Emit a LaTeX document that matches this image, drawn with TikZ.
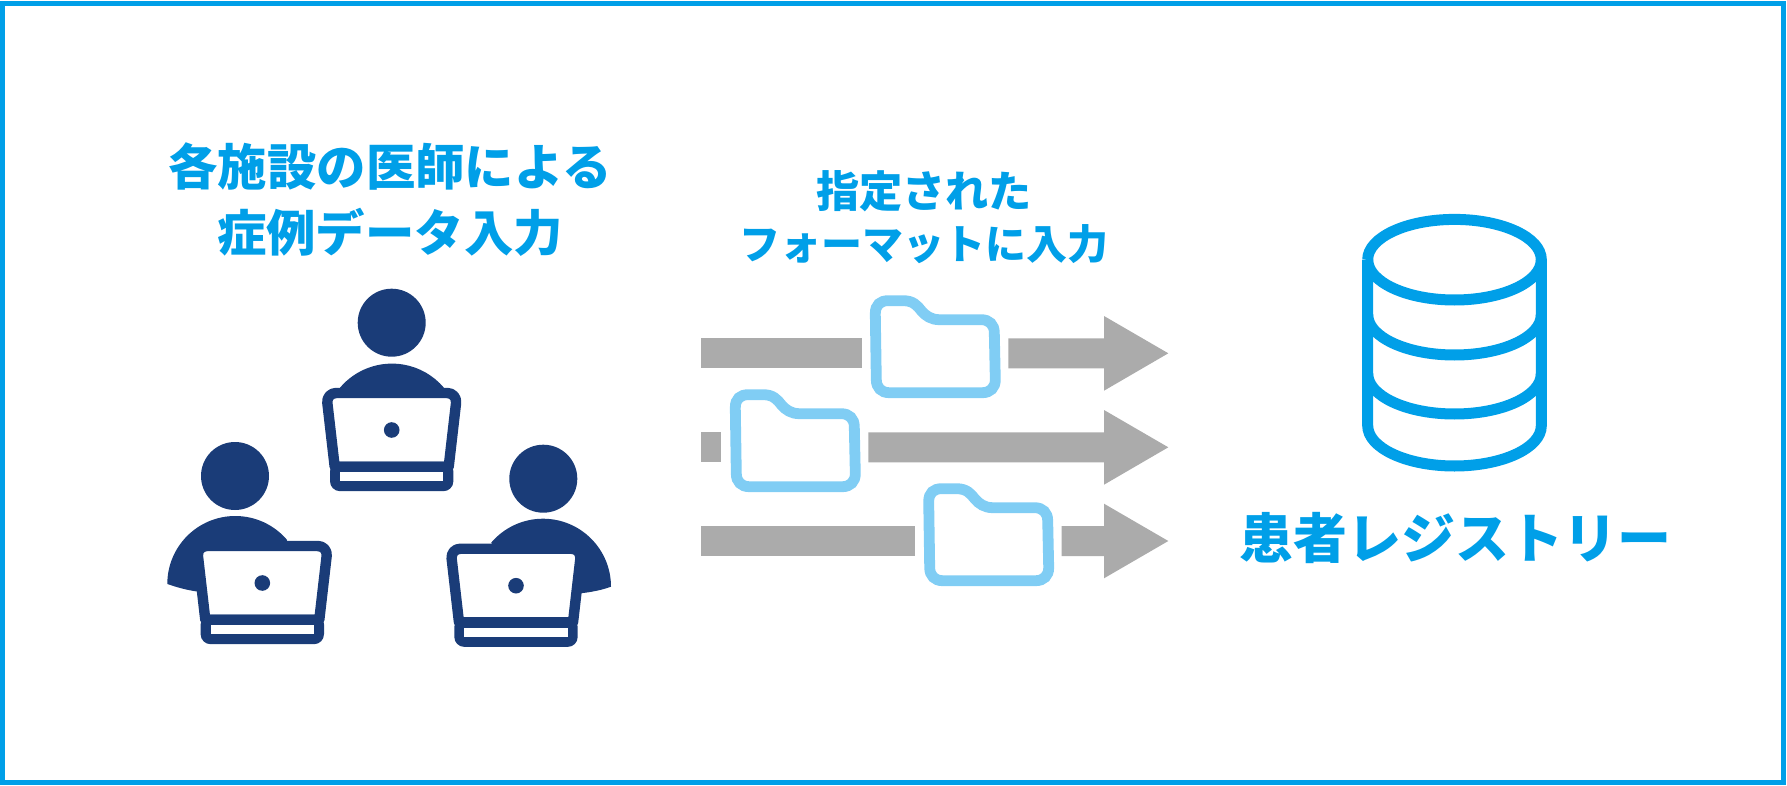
\documentclass[tikz,border=0pt]{standalone}
\usepackage{xcolor}
\definecolor{brandblue}{HTML}{009FE8}
\definecolor{navy}{HTML}{1A3C78}
\definecolor{flowgray}{HTML}{ABABAB}
\definecolor{folderblue}{HTML}{80CDF4}
\usepackage{fontspec}
\setmainfont{Noto Sans CJK JP}
\usepackage{tikz}

\begin{document}
\begin{tikzpicture}[
  x=0.5pt,y=-0.5pt,
  label/.style={text=brandblue,align=center,inner sep=0pt},
  flow/.style={fill=flowgray,draw=none},
  laptop/.pic={
    \draw[draw=navy,line width=5.2pt,fill=white,line join=round]
      (-57,36.7) [rounded corners=5pt] -- (-65.5,-37) -- (65.5,-37) [sharp corners] -- (57,36.7) -- cycle;
    \fill[navy,rounded corners=5pt] (-61.7,31.5) rectangle (61.7,61.2);
    \fill[white] (-51.7,42) rectangle (51.7,51.3);
    \fill[navy] (0,0) circle (7.8);
  },
  folder/.pic={
    \draw[draw=folderblue,line width=5.4pt,fill=white]
      (0,13) .. controls (0,4) and (5,0) .. (13,0) -- (28,0)
      .. controls (38,0) and (42,5) .. (46,10)
      .. controls (50,15) and (56,19) .. (64,19) -- (106,19)
      .. controls (114,19) and (119,24) .. (119,32) -- (120,79)
      .. controls (120,87) and (115,92) .. (107,92) -- (14,92)
      .. controls (6,92) and (1,87) .. (1,79) -- cycle;
  }
]
\useasboundingbox (0,0) rectangle (1787,786);
\draw[draw=brandblue,line width=2.65pt] (2.7,3.5) rectangle (1783.5,782.5);

% labels
\node[label,font=\bfseries\fontsize{24.7pt}{33pt}\selectfont] (doctors) at (390,200) {各施設の医師による\\症例データ入力};
\node[label,font=\bfseries\fontsize{20.5pt}{26pt}\selectfont] (format) at (924,217) {{\fontsize{21.6pt}{26pt}\selectfont 指定された}\\フォーマットに入力};
\node[label,font=\bfseries\fontsize{27pt}{32pt}\selectfont] (registry) at (1455,538) {患者レジストリー};

% people
\fill[navy] (391.7,322.7) circle (34);
\fill[navy] (340,387.7) arc (220.2:319.8:68) -- (443,400) -- (340,400) -- cycle;
\pic (laptopA) at (391.7,430) {laptop};

\fill[navy] (235,476) circle (34);
\fill[navy] (167.3,584) arc (180:319.6:68) -- (280,570) -- (198.3,591.7)
  .. controls (186,590) and (176,587) .. (167.3,584) -- cycle;
\pic (laptopB) at (262.3,583) {laptop};

\fill[navy] (543.3,478.7) circle (34);
\fill[navy] (611,586.7) arc (0:-139.6:68) -- (505,570) -- (580.7,593.3)
  .. controls (592,592) and (602,590) .. (611,586.7) -- cycle;
\pic (laptopC) at (516,585.7) {laptop};

% arrows
\fill[flow] (701,338.3) rectangle (861.7,368.3);
\fill[flow] (1008.3,338.3) -- (1104,338.3) -- (1104,316) -- (1168.3,353.3) -- (1104,390.7) -- (1104,368.3) -- (1008.3,368.3) -- cycle;
\fill[flow] (701,432.3) rectangle (721.3,462.3);
\fill[flow] (868.3,432.3) -- (1104,432.3) -- (1104,410) -- (1168.3,447.3) -- (1104,484.7) -- (1104,462.3) -- (868.3,462.3) -- cycle;
\fill[flow] (701,526) rectangle (915,556);
\fill[flow] (1061.7,526) -- (1104,526) -- (1104,503.7) -- (1168.3,541) -- (1104,578.3) -- (1104,556) -- (1061.7,556) -- cycle;

\pic (folderA) at (875.3,300.7) {folder};
\pic (folderB) at (735.3,394.7) {folder};
\pic (folderC) at (928.7,488.7) {folder};

% registry cylinder
\draw[draw=brandblue,line width=5.5pt]
  (1367.7,259.7) arc (180:-180:86.8 and 40.3);
\draw[draw=brandblue,line width=5.5pt]
  (1367.7,259.7) -- (1367.7,425.7) arc (180:0:86.8 and 40.3) -- (1541.3,259.7);
\draw[draw=brandblue,line width=5.5pt]
  (1367.7,314.7) arc (180:0:86.8 and 40.3);
\draw[draw=brandblue,line width=5.5pt]
  (1367.7,373.7) arc (180:0:86.8 and 40.3);
\end{tikzpicture}
\end{document}
